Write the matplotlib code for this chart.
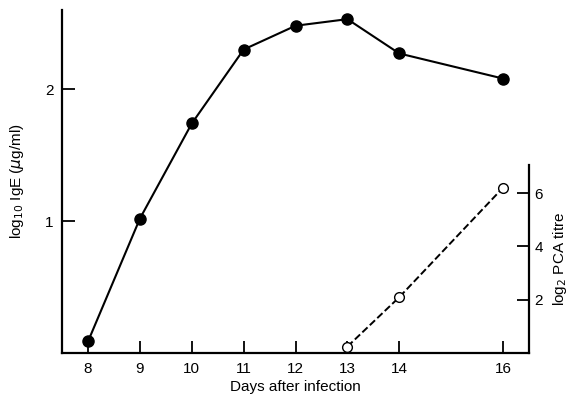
import matplotlib
matplotlib.use("Agg")
import matplotlib.pyplot as plt

plt.rcParams['font.family'] = ['Liberation Sans', 'DejaVu Sans']

days_ige = [8, 9, 10, 11, 12, 13, 14, 16]
log_ige = [0.09, 1.02, 1.74, 2.30, 2.48, 2.53, 2.27, 2.08]
days_pca = [13, 14, 16]
log_pca = [0.25, 2.1, 6.2]
x_ticks = [8, 9, 10, 11, 12, 13, 14, 16]
left_ticks = [1, 2]
right_ticks = [2, 4, 6]

fig = plt.figure(figsize=(5.7, 3.96), dpi=100)
ax = fig.add_axes([0.109, 0.108, 0.819, 0.867])
ax.plot(days_ige, log_ige, '-', color='black', lw=1.5, marker='o',
        markersize=8, markerfacecolor='black', markeredgecolor='black', zorder=3)
ax.set_xlim(7.5, 16.5)
ax.set_ylim(0, 2.6)
ax.set_xticks(x_ticks)
ax.set_xticklabels([str(t) for t in x_ticks])
ax.set_yticks(left_ticks)
ax.set_yticklabels([str(t) for t in left_ticks])
ax.tick_params(axis='both', direction='in', length=9, width=1.3, labelsize=11, pad=6)
ax.spines['top'].set_visible(False)
ax.spines['right'].set_visible(False)
for s in ['left', 'bottom']:
    ax.spines[s].set_linewidth(1.6)
ax.set_xlabel('Days after infection', fontsize=11, labelpad=3)
ax.set_ylabel(r'log$_{10}$ IgE ($\mu$g/ml)', fontsize=11, labelpad=14)

ax2 = ax.twinx()
ax2.plot(days_pca, log_pca, '--', color='black', lw=1.4, marker='o',
         markersize=7, markerfacecolor='white', markeredgecolor='black', zorder=3,
         clip_on=False)
ax2.set_ylim(0, 12.86)
ax2.set_yticks(right_ticks)
ax2.set_yticklabels([str(t) for t in right_ticks])
ax2.spines['right'].set_bounds(0, 7.05)
ax2.spines['right'].set_linewidth(1.6)
for s in ['top', 'left', 'bottom']:
    ax2.spines[s].set_visible(False)
ax2.tick_params(axis='y', direction='in', length=9, width=1.3, labelsize=11, pad=4)
fig.text(560 / 570, 1 - 259 / 396, r'log$_2$ PCA titre', rotation=90,
         ha='center', va='center', fontsize=11)

fig.savefig('out.png', dpi=100)
